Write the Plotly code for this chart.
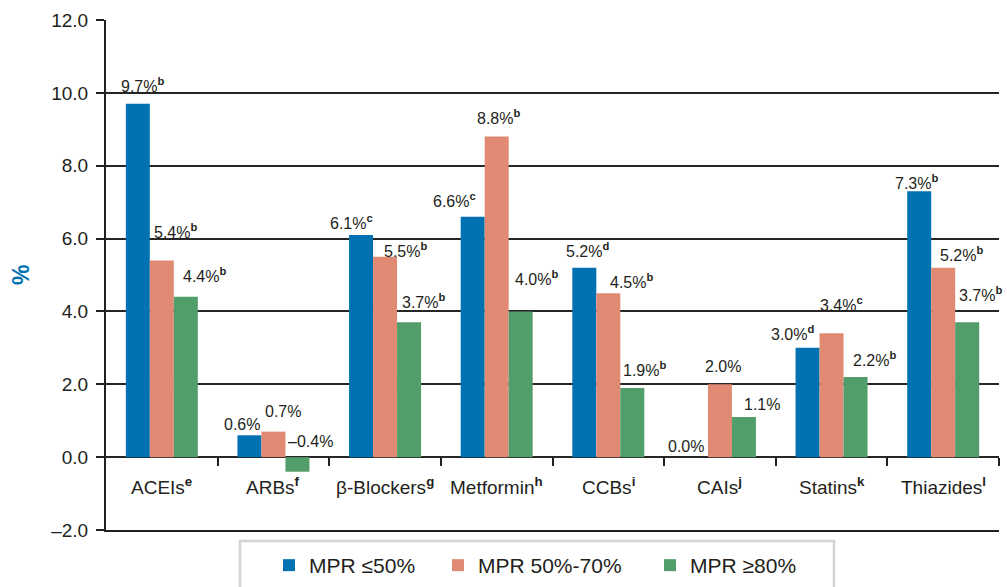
import plotly.graph_objects as go

# ---- data -------------------------------------------------------------
CATEGORIES = ["ACEIs", "ARBs", "β-Blockers", "Metformin", "CCBs", "CAIs", "Statins", "Thiazides"]
CATEGORY_NOTES = ["e", "f", "g", "h", "i", "j", "k", "l"]

SERIES_NAMES = ["MPR ≤50%", "MPR 50%-70%", "MPR ≥80%"]
MPR_LE_50 = [9.7, 0.6, 6.1, 6.6, 5.2, 0.0, 3.0, 7.3]
MPR_50_70 = [5.4, 0.7, 5.5, 8.8, 4.5, 2.0, 3.4, 5.2]
MPR_GE_80 = [4.4, -0.4, 3.7, 4.0, 1.9, 1.1, 2.2, 3.7]

NOTES_LE_50 = ["b", "", "c", "c", "d", "", "d", "b"]
NOTES_50_70 = ["b", "", "b", "b", "b", "", "c", "b"]
NOTES_GE_80 = ["b", "", "b", "b", "b", "", "b", "b"]

Y_TICKS = [-2, 0, 2, 4, 6, 8, 10, 12]

# ---- styling ----------------------------------------------------------
COLORS = ["#0072b1", "#e08a74", "#529e6a"]
INK = "#231f20"
GRID = "#262626"
FONT = "Liberation Sans, Arial, sans-serif"

W, H = 1007, 587
ML, MR, MT, MB = 106, 8, 20, 57
PW, PH = W - ML - MR, H - MT - MB
BARGAP = 0.355
BAR_PX = PW / len(CATEGORIES) * (1 - BARGAP) / 3

# hand-placed label nudges (px): left edge of the value text relative to
# the bar centre, and baseline height above the bar end
LABEL_DX = [
    [-19, -27, -33, -42, -20, -30, -39, -26],
    [-10, -10, -3, -22, 0, -17, -14, -5],
    [-5, -11, -9, -8, -11, -2, -5, -10],
]
LABEL_DY = [
    [14, 8, 8, 12, 13, 8, 10, 5],
    [25, 17, 2, 15, 8, 15, 25, 9],
    [17, 13, 17, 29, 14, 10, 14, 24],
]
TEXT_DESCENT = 7.5


def paper_x(px):
    return (px - ML) / PW


def paper_y(py):
    return (H - MB - py) / PH


series_values = [MPR_LE_50, MPR_50_70, MPR_GE_80]
series_notes = [NOTES_LE_50, NOTES_50_70, NOTES_GE_80]
n_cat = len(CATEGORIES)

fig = go.Figure()

for name, vals, color in zip(SERIES_NAMES, series_values, COLORS):
    fig.add_trace(go.Bar(
        x=CATEGORIES, y=vals, name=name,
        marker=dict(color=color, line=dict(width=0)),
        hoverinfo="skip",
    ))

# helper trace for the numeric axis that carries the category dividers at y = 0
fig.add_trace(go.Scatter(
    x=[0], y=[0], xaxis="x2", yaxis="y",
    mode="markers", marker=dict(opacity=0), showlegend=False, hoverinfo="skip",
))

annotations = []
for j, (vals, notes) in enumerate(zip(series_values, series_notes)):
    for i, (cat, v, note) in enumerate(zip(CATEGORIES, vals, notes)):
        txt = f"{v:.1f}%".replace("-", "–")
        if note:
            txt += f"<sup><b>{note}</b></sup>"
        annotations.append(dict(
            x=cat, y=max(v, 0), xref="x", yref="y",
            text=txt, showarrow=False,
            xanchor="left", yanchor="bottom",
            xshift=(j - 1) * BAR_PX + LABEL_DX[j][i],
            yshift=LABEL_DY[j][i] - TEXT_DESCENT,
            font=dict(family=FONT, size=16, color=INK),
        ))

# category names just under the zero line
for cat, note in zip(CATEGORIES, CATEGORY_NOTES):
    annotations.append(dict(
        x=cat, y=0, xref="x", yref="y",
        text=f"{cat}<sup><b>{note}</b></sup>", showarrow=False,
        xanchor="center", yanchor="top", yshift=-15,
        font=dict(family=FONT, size=19, color=INK),
    ))

annotations.append(dict(
    x=paper_x(21), y=0.5, xref="paper", yref="paper",
    text="<b>%</b>", showarrow=False, textangle=-90,
    xanchor="center", yanchor="middle",
    font=dict(family=FONT, size=23, color=COLORS[0]),
))

fig.update_layout(
    width=W, height=H,
    margin=dict(l=ML, r=MR, t=MT, b=MB, pad=0, autoexpand=False),
    paper_bgcolor="white", plot_bgcolor="white",
    font=dict(family=FONT, color=INK),
    barmode="group", bargap=BARGAP, bargroupgap=0,
    showlegend=True,
    legend=dict(
        orientation="h", x=paper_x(269), y=paper_y(545),
        xanchor="left", yanchor="top",
        font=dict(family=FONT, size=21, color=INK),
        bgcolor="rgba(0,0,0,0)", borderwidth=0,
        traceorder="normal",
    ),
    xaxis=dict(
        range=[-0.5, n_cat - 0.5],
        showticklabels=False, ticks="", showgrid=False,
        showline=True, linecolor=INK, linewidth=2,
        zeroline=False, fixedrange=True,
    ),
    xaxis2=dict(
        overlaying="x", anchor="free", position=2 / 14,
        type="linear", range=[-0.5, n_cat - 0.5],
        tickmode="array", tickvals=[k + 0.5 for k in range(n_cat)],
        showticklabels=False,
        ticks="outside", ticklen=8, tickwidth=2, tickcolor=INK,
        showline=False, showgrid=False, zeroline=False, fixedrange=True,
    ),
    yaxis=dict(
        range=[Y_TICKS[0], Y_TICKS[-1]],
        tickmode="array", tickvals=Y_TICKS,
        ticktext=[f"{t:.1f}".replace("-", "–") for t in Y_TICKS],
        ticks="outside", ticklen=8, tickwidth=2, tickcolor=INK,
        tickfont=dict(family=FONT, size=19, color=INK),
        ticklabelstandoff=4,
        showline=True, linecolor=INK, linewidth=2,
        showgrid=True, gridcolor=GRID, gridwidth=1.8,
        zeroline=True, zerolinecolor=GRID, zerolinewidth=1.8,
        fixedrange=True,
    ),
    annotations=annotations,
    shapes=[dict(
        type="rect", xref="paper", yref="paper",
        x0=paper_x(240), x1=paper_x(834), y0=paper_y(541), y1=paper_y(600),
        line=dict(color="#d3d3d3", width=2.5), fillcolor="white", layer="below",
    )],
)

# widen the first two legend entries so the three keys are spaced out
fig.data[0].legendwidth = 124
fig.data[1].legendwidth = 167

fig.write_html("out.html", config=dict(displayModeBar=False))
